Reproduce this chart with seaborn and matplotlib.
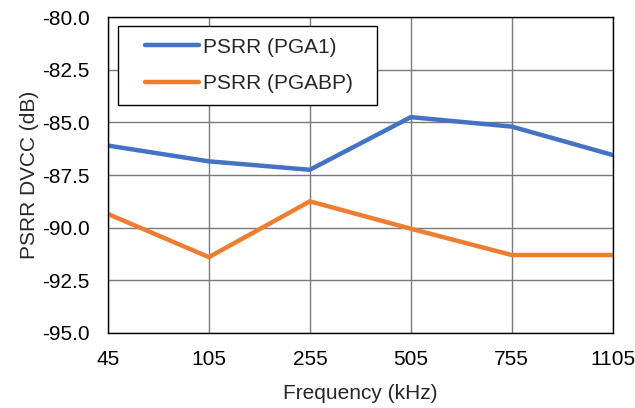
import numpy as np
import pandas as pd
import matplotlib
matplotlib.use("Agg")
import matplotlib.pyplot as plt
from matplotlib.legend_handler import HandlerLine2D
import seaborn as sns

sns.set_theme(style="white")
plt.rcParams['font.family'] = ['Liberation Sans', 'DejaVu Sans']

freqs = ["45", "105", "255", "505", "755", "1105"]
psrr_pga1 = [-86.1, -86.85, -87.25, -84.75, -85.2, -86.55]
psrr_pgabp = [-89.35, -91.4, -88.75, -90.05, -91.3, -91.3]

df = pd.DataFrame({
    "freq": freqs * 2,
    "psrr": psrr_pga1 + psrr_pgabp,
    "series": ["PSRR (PGA1)"] * 6 + ["PSRR (PGABP)"] * 6,
})

fig = plt.figure(figsize=(6.35, 4.08), dpi=100)
ax = fig.add_axes([0.170, 0.184, 0.795, 0.774])

sns.lineplot(data=df, x="freq", y="psrr", hue="series", ax=ax,
             palette=["#4472C4", "#ED7D31"], linewidth=3.2, sort=False,
             errorbar=None, estimator=None)
for ln in ax.lines:
    ln.set_solid_capstyle("round")
    ln.set_solid_joinstyle("round")

ax.set_xlim(0, 5)
ax.set_ylim(-95, -80)
yt = np.arange(-95, -79, 2.5)
ax.set_yticks(yt)
ax.set_yticklabels([f"{v:.1f}" for v in yt])
ax.grid(True, color="#7a7a7a", linewidth=1)
ax.set_axisbelow(True)
for s in ax.spines.values():
    s.set_color("black")
    s.set_linewidth(1)
ax.tick_params(labelsize=15, colors="black", length=0)
ax.tick_params(axis="y", pad=13)
ax.tick_params(axis="x", pad=12)
ax.set_xlabel("Frequency (kHz)", fontsize=15, labelpad=11)
ax.set_ylabel("PSRR DVCC (dB)", fontsize=15, labelpad=2)

handles, labels = ax.get_legend_handles_labels()
leg = ax.legend(handles, labels, loc="upper left", mode="expand",
                bbox_to_anchor=(0.0198, 0.5, 0.513, 0.471), borderaxespad=0,
                fontsize=15, frameon=True, fancybox=False, framealpha=1,
                edgecolor="black", handlelength=3.34, handletextpad=0.2,
                borderpad=0.55, labelspacing=0.84, title=None,
                handler_map={h: HandlerLine2D(xpad=0.75) for h in handles})
leg.get_frame().set_linewidth(1)
for ln in leg.get_lines():
    ln.set_solid_capstyle("round")

fig.savefig("out.png", dpi=100)
